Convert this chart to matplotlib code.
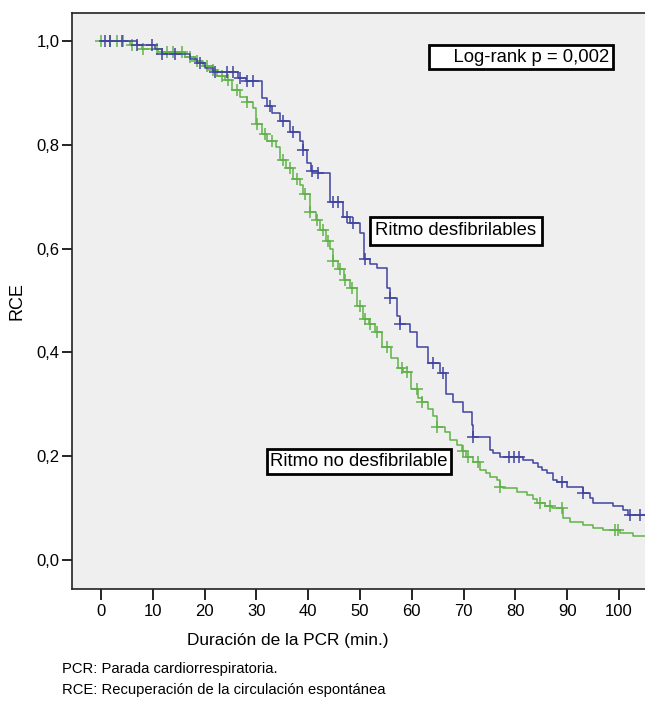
import numpy as np
import matplotlib
matplotlib.use("Agg")
import matplotlib.pyplot as plt

plt.rcParams['font.family'] = ['Liberation Sans', 'DejaVu Sans']

# Kaplan-Meier steps (time in min, RCE after the step)
blue_t = [0, 6.9, 10.4, 11.8, 17.2, 18.5, 20.1, 21.6, 26.4, 28.0, 31.1, 32.0, 33.0,
          34.6, 36.5, 38.4, 39.0, 39.8, 40.5, 41.9, 44.2, 46.7, 48.1, 50.0, 50.8,
          51.9, 53.3, 55.2, 55.8, 57.1, 57.7, 59.7, 61.0, 63.1, 65.4, 66.6, 68.0,
          69.9, 71.6, 71.8, 75.1, 75.7, 77.0, 81.5, 83.4, 84.4, 85.1, 86.1, 87.3,
          88.0, 90.0, 92.0, 93.1, 94.4, 95.0, 98.8, 100.8, 101.8, 105.5]
blue_s = [1.0, 0.992, 0.985, 0.975, 0.965, 0.958, 0.948, 0.94, 0.928, 0.923, 0.89, 0.875, 0.862,
          0.845, 0.825, 0.808, 0.79, 0.765, 0.75, 0.745, 0.69, 0.66, 0.65, 0.63, 0.58,
          0.57, 0.562, 0.525, 0.505, 0.47, 0.455, 0.44, 0.41, 0.38, 0.36, 0.32, 0.305,
          0.285, 0.26, 0.237, 0.212, 0.206, 0.198, 0.192, 0.186, 0.18, 0.173, 0.167, 0.154,
          0.15, 0.14, 0.14, 0.129, 0.119, 0.11, 0.104, 0.096, 0.087, 0.087]
blue_cens = [0.8, 1.8, 4.0, 7.0, 9.9, 11.8, 14.3, 19.1, 22.0, 24.3, 25.5, 26.8, 28.2,
             29.3, 32.6, 35.1, 37.0, 39.0, 40.7, 41.9, 44.8, 45.8, 47.5, 48.6, 50.9,
             55.8, 57.7, 64.1, 66.0, 71.8, 78.8, 79.7, 80.7, 88.9, 93.1, 102.1, 104.0]

green_t = [0, 5.6, 7.9, 11.0, 16.2, 18.1, 19.7, 21.6, 22.4, 23.9, 25.3, 26.8, 28.2,
           29.3, 29.9, 31.1, 32.0, 33.8, 34.6, 35.7, 37.1, 38.4, 39.0, 40.3, 41.5,
           42.3, 43.4, 44.2, 44.8, 45.8, 46.9, 48.1, 49.4, 50.6, 51.7, 52.9, 54.2,
           56.0, 57.3, 58.3, 59.8, 61.2, 62.0, 63.1, 64.1, 64.9, 66.4, 67.4, 68.7,
           69.7, 70.5, 71.8, 73.2, 74.3, 75.1, 76.4, 77.0, 77.6, 80.3, 82.2, 83.4,
           84.2, 85.7, 87.1, 89.2, 90.5, 93.1, 95.0, 96.9, 100.2, 102.7, 105.5]
green_s = [1.0, 0.993, 0.985, 0.978, 0.97, 0.962, 0.952, 0.945, 0.932, 0.925, 0.905, 0.893, 0.882,
           0.87, 0.84, 0.82, 0.807, 0.795, 0.77, 0.755, 0.735, 0.722, 0.705, 0.67, 0.655,
           0.635, 0.615, 0.6, 0.577, 0.56, 0.54, 0.525, 0.49, 0.465, 0.455, 0.44, 0.41,
           0.39, 0.37, 0.362, 0.33, 0.313, 0.305, 0.29, 0.278, 0.257, 0.247, 0.232, 0.222,
           0.21, 0.198, 0.188, 0.173, 0.167, 0.16, 0.154, 0.14, 0.138, 0.131, 0.125, 0.118,
           0.11, 0.104, 0.1, 0.081, 0.073, 0.067, 0.061, 0.058, 0.052, 0.046, 0.046]
green_cens = [0.0, 1.7, 3.1, 4.2, 6.0, 8.1, 10.8, 12.7, 13.9, 15.6, 17.2, 18.5, 20.5,
              21.6, 23.4, 24.5, 26.3, 28.2, 30.1, 31.7, 33.0, 35.1, 36.5, 37.8, 39.4,
              40.3, 41.7, 42.9, 43.8, 44.8, 46.1, 47.1, 48.5, 50.0, 51.0, 51.9, 53.3,
              55.2, 58.1, 59.1, 61.0, 62.0, 64.9, 69.9, 70.8, 72.8, 77.0, 84.7, 86.7,
              89.0, 99.2, 99.8]

blue_col = '#3f449f'
green_col = '#5fb247'


def km_at(times, surv, t):
    # value of the step curve at time t
    idx = np.searchsorted(times, t, side='right') - 1
    return np.asarray(surv)[idx]


fig = plt.figure(figsize=(6.45, 7.01), dpi=100)
ax = fig.add_axes([72 / 645, 112 / 701, 1 - 72 / 645, 576 / 701])
ax.set_facecolor('#efefef')

ax.step(green_t, green_s, where='post', color=green_col, lw=1.1)
ax.plot(green_cens, km_at(green_t, green_s, green_cens), ls='none', marker='+',
        ms=8, mew=1.1, color=green_col)
ax.step(blue_t, blue_s, where='post', color=blue_col, lw=1.1)
ax.plot(blue_cens, km_at(blue_t, blue_s, blue_cens), ls='none', marker='+',
        ms=8, mew=1.1, color=blue_col)

ax.set_xlim(-5.6, 105.0)
ax.set_ylim(-0.056, 1.054)
ax.set_xticks(np.arange(0, 101, 10))
ax.set_yticks([0, 0.2, 0.4, 0.6, 0.8, 1.0])
ax.set_yticklabels(['0,0', '0,2', '0,4', '0,6', '0,8', '1,0'])
ax.tick_params(axis='y', length=7, width=1.2, labelsize=12, pad=2)
ax.tick_params(axis='x', length=8, width=1.2, labelsize=12, pad=3)
for side in ['left', 'bottom', 'top']:
    ax.spines[side].set_linewidth(1.2)
    ax.spines[side].set_color('#222222')
ax.spines['right'].set_visible(False)

ax.set_ylabel('RCE', fontsize=13)
ax.yaxis.set_label_coords(-0.082, 0.5)
ax.set_xlabel('Duración de la PCR (min.)', fontsize=12.4)
ax.xaxis.set_label_coords((288 - 72) / 573, -0.076)

box = dict(boxstyle='square,pad=0.2', fc='white', ec='black', lw=2)
ax.text(81.1, 0.969, '    Log-rank p = 0,002', fontsize=13.3, ha='center', va='center', bbox=box)
ax.text(68.5, 0.634, 'Ritmo desfibrilables', fontsize=13.3, ha='center', va='center',
        bbox=dict(boxstyle='square,pad=0.3', fc='white', ec='black', lw=2))
ax.text(49.8, 0.19, 'Ritmo no desfibrilable', fontsize=13.3, ha='center', va='center', bbox=box)

fig.text(62 / 645, 1 - 669 / 701, 'PCR: Parada cardiorrespiratoria.', fontsize=10.6, va='center')
fig.text(62 / 645, 1 - 690 / 701, 'RCE: Recuperación de la circulación espontánea', fontsize=10.6, va='center')

fig.savefig('out.png', dpi=100)
